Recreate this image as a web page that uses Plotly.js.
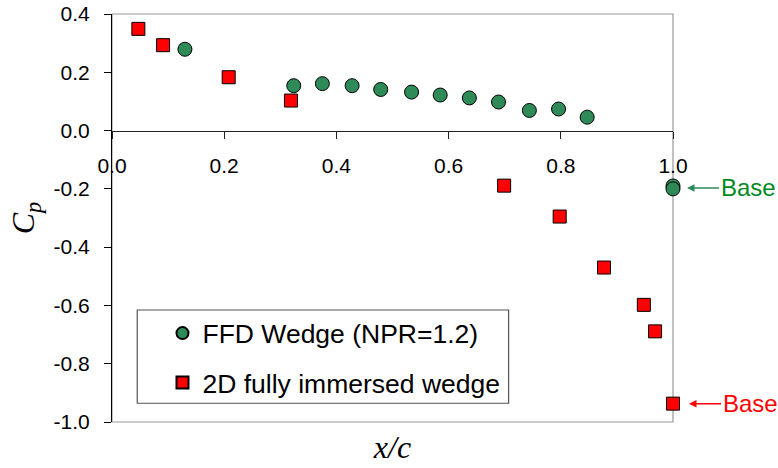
<!DOCTYPE html>
<html>
<head>
<meta charset="utf-8">
<script src="https://cdn.plot.ly/plotly-3.0.1.min.js"></script>
<style>html,body{margin:0;padding:0;background:#fff;}#chart{width:778px;height:468px;}</style>
</head>
<body>
<div id="chart"></div>
<script>
// Data
var ffdX = [0.130, 0.324, 0.375, 0.428, 0.479, 0.534, 0.585, 0.637, 0.689, 0.744, 0.796, 0.847, 1.0, 1.0];
var ffdY = [0.279, 0.154, 0.161, 0.154, 0.141, 0.132, 0.122, 0.112, 0.098, 0.069, 0.074, 0.046, -0.190, -0.200];
var wedgeX = [0.047, 0.091, 0.208, 0.319, 0.699, 0.798, 0.877, 0.948, 0.968, 1.0];
var wedgeY = [0.349, 0.293, 0.183, 0.103, -0.189, -0.295, -0.470, -0.598, -0.689, -0.937];
var seriesNames = ["FFD Wedge (NPR=1.2)", "2D fully immersed wedge"];
var xTickVals = [0, 0.2, 0.4, 0.6, 0.8, 1.0];
var xTickText = ["0.0", "0.2", "0.4", "0.6", "0.8", "1.0"];
var yTickVals = [-1.0, -0.8, -0.6, -0.4, -0.2, 0.0, 0.2, 0.4];
var yTickText = ["-1.0", "-0.8", "-0.6", "-0.4", "-0.2", "0.0", "0.2", "0.4"];
var basePoints = [{x: 1.0, y: -0.197, label: "Base"}, {x: 1.0, y: -0.937, label: "Base"}];

var sans = "Arial, 'Liberation Sans', sans-serif";
var serif = "'Times New Roman', 'Liberation Serif', serif";

var traces = [
  {x: ffdX, y: ffdY, name: seriesNames[0], type: "scatter", mode: "markers", cliponaxis: false,
   legendgroup: "a",
   marker: {symbol: "circle", size: 14, color: "#2E8B57", line: {color: "#000", width: 1}}},
  {x: wedgeX, y: wedgeY, name: seriesNames[1], type: "scatter", mode: "markers", cliponaxis: false,
   legendgroup: "b",
   marker: {symbol: "square", size: 13, color: "#FF0000", line: {color: "#000", width: 1}}}
];

var layout = {
  width: 778, height: 468,
  margin: {l: 112, r: 104.5, t: 14, b: 46},
  paper_bgcolor: "#fff", plot_bgcolor: "#fff",
  showlegend: true,
  legend: {x: 0.09, xanchor: "left", y: 0.276, yanchor: "top",
           font: {family: sans, size: 26.5, color: "#000"},
           bgcolor: "rgba(0,0,0,0)", borderwidth: 0,
           itemsizing: "constant", traceorder: "grouped", tracegroupgap: 12},
  xaxis: {range: [0, 1], showline: false, showgrid: false, zeroline: false,
          showticklabels: false, ticks: "",
          title: {text: "<i>x/c</i>", font: {family: serif, size: 32, color: "#000"}, standoff: 13}},
  xaxis2: {overlaying: "x", matches: "x", range: [0, 1], anchor: "free", position: 0.714,
           showline: true, linecolor: "#222", linewidth: 1, showgrid: false, zeroline: false,
           tickvals: xTickVals, ticktext: xTickText, ticks: "outside", ticklen: 7, tickcolor: "#222",
           tickfont: {family: sans, size: 21, color: "#000"}, ticklabelstandoff: 9},
  yaxis: {range: [-1, 0.4], showline: true, linecolor: "#000", linewidth: 1, showgrid: false,
          zeroline: false, tickvals: yTickVals, ticktext: yTickText, ticks: "outside", ticklen: 7,
          tickcolor: "#000", tickfont: {family: sans, size: 21, color: "#000"}, ticklabelstandoff: 10,
          title: {text: "<i>C<sub>p</sub></i>", font: {family: serif, size: 32, color: "#000"}, standoff: 9}},
  shapes: [
    {type: "rect", xref: "paper", yref: "paper", x0: 0, x1: 1, y0: 0, y1: 1,
     line: {color: "#999", width: 1.2}, layer: "below"},
    {type: "rect", xref: "paper", yref: "paper", x0: 0.045, x1: 0.707, y0: 0.046, y1: 0.2745,
     line: {color: "#555", width: 1.2}, fillcolor: "#fff", layer: "below"}
  ],
  annotations: [
    {x: basePoints[0].x, y: basePoints[0].y, xref: "x", yref: "y", text: basePoints[0].label,
     showarrow: true, ax: 75, ay: 0, standoff: 14, arrowhead: 2, arrowsize: 1, arrowwidth: 1.5,
     arrowcolor: "#2E8B57", font: {family: sans, size: 24, color: "#008A1E"}},
    {x: basePoints[1].x, y: basePoints[1].y, xref: "x", yref: "y", text: basePoints[1].label,
     showarrow: true, ax: 77, ay: 0, standoff: 16, arrowhead: 2, arrowsize: 1, arrowwidth: 1.5,
     arrowcolor: "#FF0000", font: {family: sans, size: 24, color: "#FF0000"}}
  ]
};

// invisible placeholder trace so that the zero-line x axis (xaxis2) is drawn
traces.push({x: [null], y: [null], xaxis: "x2", yaxis: "y", type: "scatter", mode: "markers",
             showlegend: false, hoverinfo: "skip"});

Plotly.newPlot("chart", traces, layout, {staticPlot: true, displayModeBar: false});
</script>
</body>
</html>
